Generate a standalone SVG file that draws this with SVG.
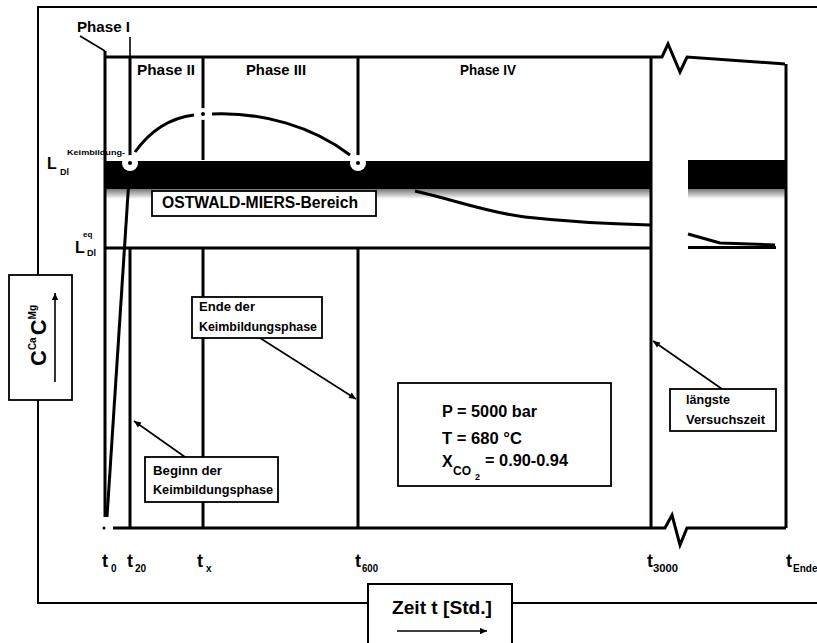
<svg xmlns="http://www.w3.org/2000/svg" width="817" height="643" viewBox="0 0 817 643">
<style>
.ln{stroke:#000;stroke-width:3;fill:none}
.bd{stroke:#000;stroke-width:2;fill:none}
.thin{stroke:#000;stroke-width:1.6;fill:none}
.box{fill:#fff;stroke:#000;stroke-width:1.8}
.t{font-family:"Liberation Sans",Arial,sans-serif;font-weight:bold;fill:#000}
</style>
<defs>
<marker id="ah" viewBox="0 0 10 10" refX="10" refY="5" markerWidth="9" markerHeight="7" orient="auto" markerUnits="userSpaceOnUse">
<path d="M0,0.5 L10,5 L0,9.5 z" fill="#000"/>
</marker>
<linearGradient id="fringe" x1="0" y1="0" x2="0" y2="1">
<stop offset="0" stop-color="#777"/>
<stop offset="0.5" stop-color="#bbb"/>
<stop offset="1" stop-color="#fff"/>
</linearGradient>
</defs>
<rect width="817" height="643" fill="#fff"/>

<g id="frame">
<path class="bd" d="M38,275 V7 H817"/>
<path class="bd" d="M38,400 V603 H368"/>
<path class="bd" d="M512,603 H817"/>
</g>

<g id="band">
<rect x="105" y="161" width="546" height="28" fill="#000"/>
<rect x="105" y="189" width="546" height="10" fill="url(#fringe)"/>
<rect x="688" y="160" width="98" height="29" fill="#000"/>
<rect x="688" y="189" width="98" height="10" fill="url(#fringe)"/>
</g>

<g id="axes">
<path class="ln" d="M105,51 V517"/>
<path class="ln" d="M105,57 H662 L668,44 L680,72 L687,57 L785,64"/>
<path class="ln" d="M113,528 H665 L672,515 L680,545 L687,528 H786"/>
<circle cx="104" cy="528" r="1.5" fill="#000"/>
<path class="ln" d="M786,64 V528"/>
<path class="ln" d="M651,57 V528"/>
<path class="thin" d="M80,36 L105,51"/>
<path class="thin" d="M130,37 V57"/>
<path class="ln" d="M130,57 V160 M130,248 V528"/>
<path class="ln" d="M203,57 V160 M203,248 V528"/>
<path class="ln" d="M358,57 V160 M358,248 V528"/>
<path class="ln" d="M105,248 H651"/>
</g>

<g id="curves">
<path class="ln" stroke-width="3.5" d="M107,517 L130,163"/>
<path class="ln" stroke-width="4" d="M135,152 C150,131 170,118 194,115"/>
<path class="ln" stroke-width="4" d="M212,114 C262,112 312,126 350,155"/>
<path class="ln" d="M415,191 C455,200 485,212 525,217 C570,222 610,224 650,225"/>
<path class="ln" d="M688,234 L720,243 L775,245"/>
<path class="ln" stroke-width="3.5" d="M688,247.5 H776"/>
<circle cx="203" cy="114" r="6" fill="#fff"/>
<circle cx="203" cy="114" r="2" fill="#000"/>
<circle cx="130" cy="163" r="8" fill="#fff"/>
<circle cx="130" cy="163" r="2" fill="#000"/>
<circle cx="358" cy="163" r="8" fill="#fff"/>
<circle cx="358" cy="163" r="2" fill="#000"/>
</g>

<g id="phases">
<text class="t" x="77" y="32" font-size="14" textLength="53" lengthAdjust="spacingAndGlyphs">Phase I</text>
<text class="t" x="137" y="75" font-size="14" textLength="58" lengthAdjust="spacingAndGlyphs">Phase II</text>
<text class="t" x="246" y="75" font-size="14" textLength="60" lengthAdjust="spacingAndGlyphs">Phase III</text>
<text class="t" x="460" y="75" font-size="14" textLength="56" lengthAdjust="spacingAndGlyphs">Phase IV</text>
</g>

<g id="ylabels">
<text class="t" x="67" y="155" font-size="8" textLength="58" lengthAdjust="spacingAndGlyphs">Keimbildung-</text>
<text class="t" x="47" y="169" font-size="16">L</text>
<text class="t" x="60" y="175" font-size="9">Dl</text>
<text class="t" x="75" y="253" font-size="16">L</text>
<text class="t" x="83" y="237" font-size="8">eq</text>
<text class="t" x="87" y="256" font-size="9">Dl</text>
</g>

<g id="ostwald">
<rect class="box" x="152" y="191" width="224" height="25"/>
<text class="t" x="162" y="208" font-size="16" textLength="196" lengthAdjust="spacingAndGlyphs">OSTWALD-MIERS-Bereich</text>
</g>

<g id="connectors">
<path class="thin" d="M260,338 L356,399" marker-end="url(#ah)"/>
<path class="thin" d="M185,457 L134,421" marker-end="url(#ah)"/>
<path class="thin" d="M722,389 L653,341" marker-end="url(#ah)"/>
</g>

<g id="ende">
<rect class="box" x="192" y="297" width="130" height="41"/>
<text class="t" x="199" y="311" font-size="12" textLength="56" lengthAdjust="spacingAndGlyphs">Ende der</text>
<text class="t" x="199" y="331" font-size="12" textLength="118" lengthAdjust="spacingAndGlyphs">Keimbildungsphase</text>
</g>

<g id="beginn">
<rect class="box" x="145" y="457" width="133" height="45"/>
<text class="t" x="153" y="475" font-size="12" textLength="69" lengthAdjust="spacingAndGlyphs">Beginn der</text>
<text class="t" x="153" y="494" font-size="12" textLength="120" lengthAdjust="spacingAndGlyphs">Keimbildungsphase</text>
</g>

<g id="params">
<rect class="box" x="398" y="383" width="213" height="103" stroke-width="3"/>
<text class="t" x="442" y="417" font-size="16" textLength="95" lengthAdjust="spacingAndGlyphs">P = 5000 bar</text>
<text class="t" x="442" y="444" font-size="16" textLength="80" lengthAdjust="spacingAndGlyphs">T = 680 °C</text>
<text class="t" x="442" y="467" font-size="16">X</text>
<text class="t" x="453" y="475" font-size="12">CO</text>
<text class="t" x="475" y="480" font-size="9">2</text>
<text class="t" x="485" y="466" font-size="16" textLength="83" lengthAdjust="spacingAndGlyphs">= 0.90-0.94</text>
</g>

<g id="laengste">
<rect class="box" x="670" y="389" width="106" height="42"/>
<text class="t" x="686" y="404" font-size="12" textLength="44" lengthAdjust="spacingAndGlyphs">längste</text>
<text class="t" x="686" y="424" font-size="12" textLength="79" lengthAdjust="spacingAndGlyphs">Versuchszeit</text>
</g>

<g id="yaxis-label">
<rect class="box" x="9" y="275" width="63" height="125" stroke-width="2"/>
<text class="t" transform="translate(46,366) rotate(-90)" font-size="22"><tspan>C</tspan><tspan font-size="10" dy="-10">Ca</tspan><tspan dy="10" dx="2">C</tspan><tspan font-size="10" dy="-10">Mg</tspan></text>
<path class="thin" stroke-width="2" d="M55,382 V293" marker-end="url(#ah)"/>
</g>

<g id="xaxis-label">
<path class="bd" stroke-width="2.5" d="M368,643 V584 H512 V643"/>
<text class="t" x="392" y="614" font-size="18" textLength="100" lengthAdjust="spacingAndGlyphs">Zeit t [Std.]</text>
<path class="thin" stroke-width="2" d="M397,631 H487" marker-end="url(#ah)"/>
</g>

<g id="ticks">
<text class="t" x="102" y="567" font-size="18">t</text><text class="t" x="111" y="572" font-size="10">0</text>
<text class="t" x="127" y="567" font-size="18">t</text><text class="t" x="135" y="572" font-size="10">20</text>
<text class="t" x="197" y="567" font-size="18">t</text><text class="t" x="206" y="572" font-size="10">x</text>
<text class="t" x="355" y="567" font-size="18">t</text><text class="t" x="362" y="572" font-size="10" textLength="16" lengthAdjust="spacingAndGlyphs">600</text>
<text class="t" x="647" y="567" font-size="18">t</text><text class="t" x="653" y="572" font-size="10" textLength="25" lengthAdjust="spacingAndGlyphs">3000</text>
<text class="t" x="786" y="567" font-size="18">t</text><text class="t" x="793" y="572" font-size="10">Ende</text>
</g>
</svg>
